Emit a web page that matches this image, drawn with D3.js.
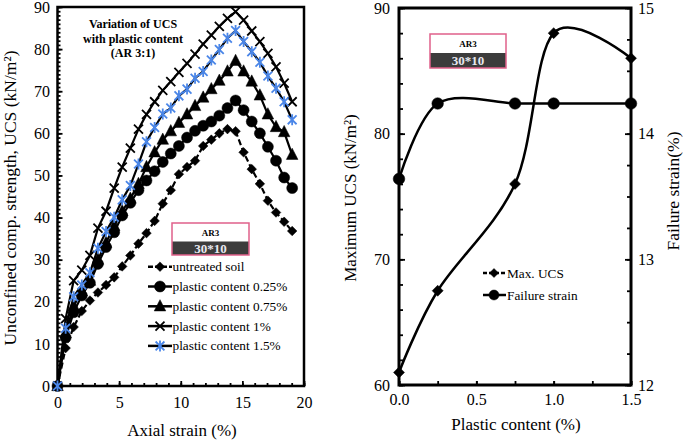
<!DOCTYPE html>
<html><head><meta charset="utf-8">
<script src="https://cdn.jsdelivr.net/npm/d3@7"></script>
<style>
body{margin:0;background:#fff}
svg{display:block;font-family:"Liberation Serif","Times New Roman",serif}
</style>
</head><body>
<svg id="c" width="685" height="441"></svg>
<script>
// ---------- data: left chart (stress-strain) ----------
const strain = [0,0.66,1.31,1.97,2.63,3.28,3.94,4.6,5.25,5.91,6.57,7.22,7.88,8.54,9.19,9.85,10.51,11.16,11.82,12.48,13.13,13.79,14.45,15.1,15.76,16.42,17.07,17.73,18.39,19.04];
const untreated = [0,9,14,17.8,20.3,22.2,24,25.8,28.4,31,33.8,36.3,39.2,43.3,46.5,50.3,52,53.5,57,58.5,60,61,60.5,55.5,51.5,48,44,41.2,39,36.8];
const pc025 = [0,11.5,17.5,21.5,24.5,29,33,36.5,40.5,43.5,46.5,48.8,51,53.2,55.2,57,59,60.6,61.8,62.8,64.2,66,67.8,65.5,62.8,60,56.8,53.5,49.5,47];
const pc075 = [0,12.5,19,22.5,25,30,34,38,41.5,44.5,48,52,55.5,58.5,60.5,62.5,64.5,66.5,68.5,70.5,72.5,74.7,77.2,74.7,72.3,69,64.5,61.5,60.3,54.9];
const pc1 = [0,16,25,27.5,31,37.5,41.5,47,52,56.5,61,64.5,67.5,70.2,72.3,74.5,76.6,78.8,81.2,83.3,85.4,87.3,88.9,86.9,84.3,81.8,79,75.8,71.9,67.5];
const pc15 = [0,13.7,21.2,24,26.9,32.7,36.7,40.1,44.2,47.6,52.7,58.0,61.4,64.6,66.0,68.9,70.5,73.1,74.7,77.4,79.9,82.6,84.4,81.8,79.4,76.9,73.6,70.7,67.5,63.2];
const leftLabels = ["untreated soil","plastic content 0.25%","plastic content 0.75%","plastic content 1%","plastic content 1.5%"];
const leftXTicks = [0,5,10,15,20];
const leftYTicks = [0,10,20,30,40,50,60,70,80,90];
const titleLines = ["Variation of UCS","with plastic content","(AR 3:1)"];

// ---------- data: right chart ----------
const plastic = [0,0.25,0.75,1.0,1.5];
const maxUCS = [61,67.5,76,88,86];
const failStrain = [13.64,14.24,14.24,14.24,14.24];
const rightLabels = ["Max. UCS","Failure strain"];
const rightXTicks = [0,0.5,1.0,1.5];
const rightYTicks = [60,70,80,90];
const rightY2Ticks = [12,13,14,15];

const svg = d3.select('#c');
const BLUE = '#4a86e8';

function markerPath(type, r){
  if(type==='diamond') return `M0,${-r}L${r},0L0,${r}L${-r},0Z`;
  if(type==='circle') return d3.symbol(d3.symbolCircle, Math.PI*r*r)();
  if(type==='triangle') return `M0,${-r*1.15}L${r},${r*0.8}L${-r},${r*0.8}Z`;
  if(type==='x') return `M${-r},${-r}L${r},${r}M${-r},${r}L${r},${-r}`;
  if(type==='star') return `M${-r*0.8},${-r*0.8}L${r*0.8},${r*0.8}M${-r*0.8},${r*0.8}L${r*0.8},${-r*0.8}M0,${-r}L0,${r}`;
}
function drawMarker(g, type, r, color, x, y){
  const stroked = (type==='x'||type==='star');
  g.append('path').attr('d', markerPath(type,r))
    .attr('transform',`translate(${x},${y})`)
    .attr('fill', stroked?'none':color)
    .attr('stroke', color)
    .attr('stroke-width', stroked?1.8:0.5);
}
function styleAxis(g, fs){
  g.attr('font-family',null).attr('font-size',null);
  g.select('.domain').remove();
  g.selectAll('.tick line').attr('stroke','#000').attr('stroke-width',1.8);
  g.selectAll('.tick text').attr('fill','#000').style('font-size',fs+'px');
}

// ================= LEFT CHART =================
const xL = d3.scaleLinear().domain([0,20]).range([57.5,304]);
const yL = d3.scaleLinear().domain([0,90]).range([386,7]);

styleAxis(svg.append('g').attr('transform','translate(0,386)')
  .call(d3.axisBottom(xL).tickValues(d3.range(0,21,1)).tickSizeInner(-3).tickSizeOuter(0).tickFormat('')),16);
styleAxis(svg.append('g').attr('transform','translate(0,386)')
  .call(d3.axisBottom(xL).tickValues(leftXTicks).tickSizeInner(-5).tickSizeOuter(0).tickPadding(11).tickFormat(d3.format('d'))),16);
styleAxis(svg.append('g').attr('transform','translate(57.5,0)')
  .call(d3.axisLeft(yL).tickValues(d3.range(0,91,1)).tickSizeInner(-3).tickSizeOuter(0).tickFormat('')),16);
styleAxis(svg.append('g').attr('transform','translate(57.5,0)')
  .call(d3.axisLeft(yL).tickValues(leftYTicks).tickSizeInner(-5).tickSizeOuter(0).tickPadding(7.5).tickFormat(d3.format('d'))),16);

svg.append('rect').attr('x',57.5).attr('y',7).attr('width',304-57.5).attr('height',386-7)
  .attr('fill','none').attr('stroke','#000').attr('stroke-width',2.5);

const leftSeries = [
  {vals:untreated, type:'diamond', r:4.8, color:'#000', dash:'6,3'},
  {vals:pc025, type:'circle', r:5.5, color:'#000', dash:null},
  {vals:pc075, type:'triangle', r:5.8, color:'#000', dash:null},
  {vals:pc1, type:'x', r:4.5, color:'#000', dash:null},
  {vals:pc15, type:'star', r:5.5, color:BLUE, dash:null}
];
const lineL = d3.line().x(d=>xL(d[0])).y(d=>yL(d[1]));
leftSeries.forEach(s=>{
  const pts = strain.map((x,i)=>[x,s.vals[i]]);
  const g = svg.append('g');
  g.append('path').attr('d',lineL(pts)).attr('fill','none').attr('stroke','#000')
    .attr('stroke-width',2.2).attr('stroke-dasharray',s.dash);
  pts.forEach(p=>drawMarker(g,s.type,s.r,s.color,xL(p[0]),yL(p[1])));
});

// title
titleLines.forEach((t,i)=>{
  svg.append('text').attr('x',133).attr('y',28+i*14.5).attr('text-anchor','middle')
    .attr('font-weight','bold').style('font-size','12px').text(t);
});

// legend
leftSeries.forEach((s,i)=>{
  const cy = 266.7 + i*19.8;
  const g = svg.append('g');
  g.append('line').attr('x1',148).attr('x2',172).attr('y1',cy).attr('y2',cy)
    .attr('stroke','#000').attr('stroke-width',2.5).attr('stroke-dasharray', s.dash?'5,2':null);
  drawMarker(g,s.type,s.r,s.color,160,cy);
  g.append('text').attr('x',172.5).attr('y',cy+4.5).style('font-size','13.3px').text(leftLabels[i]);
});

// label box
function labelBox(x,y,w,h1,h2){
  const g = svg.append('g');
  g.append('rect').attr('x',x).attr('y',y).attr('width',w).attr('height',h1).attr('fill','#fff');
  g.append('rect').attr('x',x).attr('y',y+h1).attr('width',w).attr('height',h2).attr('fill','#3c3c3c');
  g.append('rect').attr('x',x).attr('y',y).attr('width',w).attr('height',h1+h2)
    .attr('fill','none').attr('stroke','#e0608a').attr('stroke-width',1.5);
  g.append('text').attr('x',x+w/2).attr('y',y+h1/2+3.5).attr('text-anchor','middle')
    .attr('font-weight','bold').style('font-size','9px').text('AR3');
  g.append('text').attr('x',x+w/2).attr('y',y+h1+h2/2+4.5).attr('text-anchor','middle')
    .attr('fill','#e8e8f0').attr('font-weight','bold').style('font-size','13px').text('30*10');
}
labelBox(172,223,77,18.5,13.5);
labelBox(430,34,76,19,15);

// axis titles
svg.append('text').attr('x',182).attr('y',435.5).attr('text-anchor','middle').style('font-size','17px').text('Axial strain (%)');
svg.append('text').attr('transform','translate(16,198) rotate(-90)').attr('text-anchor','middle')
  .style('font-size','17.5px').text('Unconfined comp. strength, UCS (kN/m²)');

// ================= RIGHT CHART =================
const xR = d3.scaleLinear().domain([0,1.5]).range([399,631]);
const yR = d3.scaleLinear().domain([60,90]).range([385,8]);
const yR2 = d3.scaleLinear().domain([12,15]).range([385,8]);

styleAxis(svg.append('g').attr('transform','translate(0,385)')
  .call(d3.axisBottom(xR).tickValues(d3.range(0,1.51,0.25)).tickSizeInner(-4).tickSizeOuter(0).tickFormat('')),16);
styleAxis(svg.append('g').attr('transform','translate(0,385)')
  .call(d3.axisBottom(xR).tickValues(rightXTicks).tickSizeInner(-4).tickSizeOuter(0).tickPadding(9).tickFormat(d3.format('.1f'))),16);
styleAxis(svg.append('g').attr('transform','translate(399,0)')
  .call(d3.axisLeft(yR).tickValues(d3.range(60,91,2)).tickSizeInner(-4).tickSizeOuter(0).tickFormat('')),16);
styleAxis(svg.append('g').attr('transform','translate(399,0)')
  .call(d3.axisLeft(yR).tickValues(rightYTicks).tickSizeInner(-6).tickSizeOuter(0).tickPadding(9).tickFormat(d3.format('d'))),16);
styleAxis(svg.append('g').attr('transform','translate(631,0)')
  .call(d3.axisRight(yR2).tickValues(d3.range(12,15.01,0.25)).tickSizeInner(-4).tickSizeOuter(0).tickFormat('')),16);
styleAxis(svg.append('g').attr('transform','translate(631,0)')
  .call(d3.axisRight(yR2).tickValues(rightY2Ticks).tickSizeInner(-6).tickSizeOuter(0).tickPadding(7).tickFormat(d3.format('d'))),16);

svg.append('rect').attr('x',399).attr('y',8).attr('width',631-399).attr('height',385-8)
  .attr('fill','none').attr('stroke','#000').attr('stroke-width',3);

const curveR = d3.curveCardinal.tension(0);
const lineUCS = d3.line().x(d=>xR(d[0])).y(d=>yR(d[1])).curve(curveR);
const lineFS = d3.line().x(d=>xR(d[0])).y(d=>yR2(d[1])).curve(curveR);
const ucsPts = plastic.map((p,i)=>[p,maxUCS[i]]);
const fsPts = plastic.map((p,i)=>[p,failStrain[i]]);
const gR = svg.append('g');
gR.append('path').attr('d',lineUCS(ucsPts)).attr('fill','none').attr('stroke','#000').attr('stroke-width',2.5);
gR.append('path').attr('d',lineFS(fsPts)).attr('fill','none').attr('stroke','#000').attr('stroke-width',2.5);
ucsPts.forEach(p=>drawMarker(gR,'diamond',5.5,'#000',xR(p[0]),yR(p[1])));
fsPts.forEach(p=>drawMarker(gR,'circle',5.8,'#000',xR(p[0]),yR2(p[1])));

// right legend
[['diamond',4.5,'4,2'],['circle',5,null]].forEach((m,i)=>{
  const cy = 273 + i*22;
  const g = svg.append('g');
  g.append('line').attr('x1',483).attr('x2',506).attr('y1',cy).attr('y2',cy)
    .attr('stroke','#000').attr('stroke-width',2.5).attr('stroke-dasharray',m[2]);
  drawMarker(g,m[0],m[1],'#000',494,cy);
  g.append('text').attr('x',507).attr('y',cy+4.5).style('font-size','13.3px').text(rightLabels[i]);
});

svg.append('text').attr('x',516).attr('y',430).attr('text-anchor','middle').style('font-size','17px').text('Plastic content (%)');
svg.append('text').attr('transform','translate(356,198) rotate(-90)').attr('text-anchor','middle')
  .style('font-size','17px').text('Maximum UCS (kN/m²)');
svg.append('text').attr('transform','translate(679,191) rotate(-90)').attr('text-anchor','middle')
  .style('font-size','17.5px').text('Failure strain(%)');
</script>
</body></html>
